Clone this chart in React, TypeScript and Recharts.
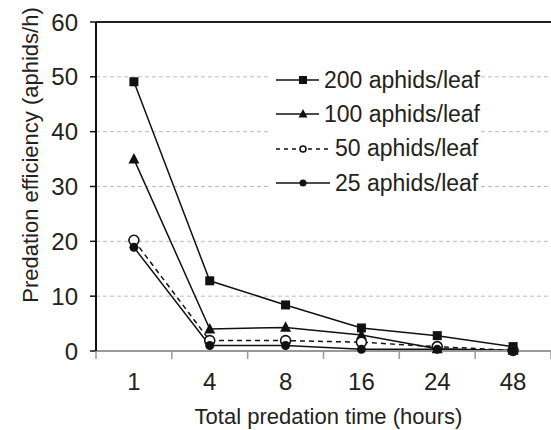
import React from 'react';
import {
  LineChart,
  Line,
  XAxis,
  YAxis,
  CartesianGrid,
  Legend,
  ReferenceLine
} from 'recharts';

// Predation time categories (hours)
const categories = ['1', '4', '8', '16', '24', '48'];

// Predation efficiency (aphids/h) per aphid density
const density200 = [49.1, 12.8, 8.4, 4.2, 2.8, 0.8];
const density100 = [35.0, 4.0, 4.3, 2.9, 0.4, 0.1];
const density50 = [20.2, 1.9, 1.9, 1.6, 0.8, 0.1];
const density25 = [18.9, 1.0, 1.0, 0.3, 0.3, 0.1];

const yTicks = [0, 10, 20, 30, 40, 50, 60];

const data = categories.map((cat, i) => ({
  x: i,
  cat,
  d200: density200[i],
  d100: density100[i],
  d50: density50[i],
  d25: density25[i]
}));

const xTicks = [-0.5, 0, 0.5, 1, 1.5, 2, 2.5, 3, 3.5, 4, 4.5, 5, 5.5];

const TEXT = '#222';

const Square = ({ cx, cy, s = 9 }: any) => (
  <rect x={cx - s / 2} y={cy - s / 2} width={s} height={s} fill="#111" />
);
const Triangle = ({ cx, cy, s = 11 }: any) => (
  <polygon
    points={`${cx},${cy - s * 0.55} ${cx - s / 2},${cy + s * 0.4} ${cx + s / 2},${cy + s * 0.4}`}
    fill="#111"
  />
);
const OpenCircle = ({ cx, cy, r = 5 }: any) => (
  <circle cx={cx} cy={cy} r={r} fill="#fff" stroke="#111" strokeWidth={1.6} />
);
const DotCircle = ({ cx, cy, r = 4.5 }: any) => <circle cx={cx} cy={cy} r={r} fill="#111" />;

const legendItems = [
  { label: '200 aphids/leaf', dash: undefined, Marker: Square, size: { s: 8 } },
  { label: '100 aphids/leaf', dash: undefined, Marker: Triangle, size: { s: 9 } },
  { label: '50 aphids/leaf', dash: '4 4', Marker: OpenCircle, size: { r: 3 } },
  { label: '25 aphids/leaf', dash: undefined, Marker: DotCircle, size: { r: 3.5 } }
];

const renderLegend = () => (
  <div style={{ background: '#fff', padding: '5px 0 10px 8px' }}>
    {legendItems.map(({ label, dash, Marker, size }) => (
      <div key={label} style={{ display: 'flex', alignItems: 'center', height: 34.3 }}>
        <svg width={54} height={14} style={{ display: 'block' }}>
          <line x1={0} x2={54} y1={7} y2={7} stroke="#111" strokeWidth={1.5} strokeDasharray={dash} />
          <Marker cx={27} cy={7} {...size} />
        </svg>
        <span style={{ marginLeft: 5, fontSize: 23, color: TEXT, whiteSpace: 'nowrap', lineHeight: 1 }}>
          {label}
        </span>
      </div>
    ))}
  </div>
);

const XTick = ({ x, y, payload }: any) => {
  const v = payload.value;
  if (Number.isInteger(v)) {
    return (
      <text x={x} y={y + 39} textAnchor="middle" fontSize={24} fill={TEXT}>
        {categories[v]}
      </text>
    );
  }
  return <line x1={x} x2={x} y1={y} y2={y + 8} stroke="#999" strokeWidth={1.5} />;
};

const App: React.FC = () => {
  return (
    <div
      style={{
        position: 'absolute',
        left: 0,
        top: 0,
        width: 551,
        height: 430,
        background: '#fff',
        fontFamily: '"Liberation Sans", Arial, sans-serif'
      }}
    >
      <LineChart width={551} height={430} data={data} margin={{ top: 22, right: 0, bottom: 0, left: 0 }}>
        <CartesianGrid vertical={false} stroke="#bbb" strokeDasharray="4 3" />
        <XAxis
          dataKey="x"
          type="number"
          domain={[-0.5, 5.5]}
          ticks={xTicks}
          interval={0}
          height={79}
          tickSize={0}
          tickMargin={0}
          tickLine={false}
          tick={<XTick />}
          axisLine={{ stroke: '#999', strokeWidth: 2 }}
          label={{
            value: 'Total predation time (hours)',
            position: 'insideBottom',
            offset: 6,
            dx: 5,
            style: { fontSize: 22, fill: TEXT }
          }}
        />
        <YAxis
          domain={[0, 60]}
          ticks={yTicks}
          width={96}
          tickSize={6}
          tickMargin={12}
          tick={{ fontSize: 24, fill: TEXT }}
          tickLine={{ stroke: '#111', strokeWidth: 1.5 }}
          axisLine={{ stroke: '#111', strokeWidth: 2 }}
          label={
            <text x={23} y={180} transform="rotate(-90 23 180)" textAnchor="middle" dy={8} fontSize={22} fill={TEXT}>
              Predation efficiency (aphids/h)
            </text>
          }
        />
        <ReferenceLine y={60} stroke="#222" strokeWidth={2} />
        <Legend
          layout="horizontal"
          verticalAlign="middle"
          align="center"
          content={renderLegend}
          wrapperStyle={{ left: 268, top: 58, width: 212 }}
        />
        <Line
          dataKey="d200"
          stroke="#111"
          strokeWidth={1.5}
          dot={(p: any) => <Square key={p.index} cx={p.cx} cy={p.cy} />}
          isAnimationActive={false}
        />
        <Line
          dataKey="d100"
          stroke="#111"
          strokeWidth={1.5}
          dot={(p: any) => <Triangle key={p.index} cx={p.cx} cy={p.cy} />}
          isAnimationActive={false}
        />
        <Line
          dataKey="d50"
          stroke="#111"
          strokeWidth={1.5}
          strokeDasharray="5 4"
          dot={(p: any) => <OpenCircle key={p.index} cx={p.cx} cy={p.cy} />}
          isAnimationActive={false}
        />
        <Line
          dataKey="d25"
          stroke="#111"
          strokeWidth={1.5}
          dot={(p: any) => <DotCircle key={p.index} cx={p.cx} cy={p.cy} />}
          isAnimationActive={false}
        />
      </LineChart>
    </div>
  );
};

export default App;
